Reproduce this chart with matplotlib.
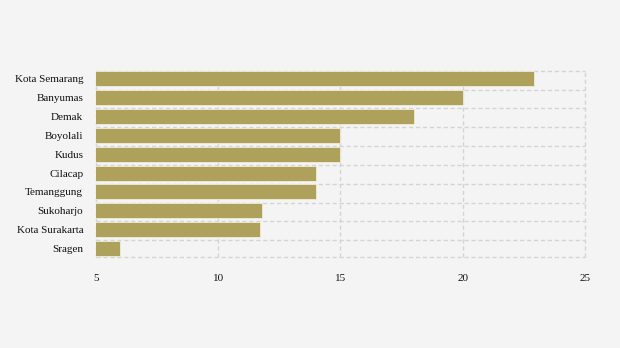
import matplotlib
matplotlib.use("Agg")
import matplotlib.pyplot as plt
import numpy as np

# Data
regions = ["Kota Semarang", "Banyumas", "Demak", "Boyolali", "Kudus",
           "Cilacap", "Temanggung", "Sukoharjo", "Kota Surakarta", "Sragen"]
values = [22.9, 20.0, 18.0, 15.0, 15.0, 14.0, 14.0, 11.8, 11.7, 6.0]
xticks = [5, 10, 15, 20, 25]

BG = "#f4f4f4"
BAR = "#aea15c"
GRID = "#d4d4d4"
BAR_H = 0.8

plt.rcParams["font.family"] = ["Liberation Serif", "DejaVu Serif"]

fig = plt.figure(figsize=(6.2, 3.48), dpi=100, facecolor=BG)
ax = fig.add_axes([0.1544, 0.2606, 0.7895, 0.5362], facecolor=BG)

y = np.arange(len(regions))
ax.barh(y, values, height=BAR_H, color=BAR, edgecolor="#f0ecd8", linewidth=0.6, zorder=2)

top = -BAR_H / 2 - 0.03
bottom = len(regions) - 1 + BAR_H / 2 + 0.07
ax.set_xlim(5, 25)
ax.set_ylim(bottom, top)
ax.set_xticks(xticks)
ax.set_xticklabels([str(t) for t in xticks], fontsize=8, color="#111111")
ax.set_yticks(y)
ax.set_yticklabels(regions, fontsize=8, color="#111111")

# dashed lines just above each bar, closed at the bottom
ax.set_yticks(list(y + top) + [bottom], minor=True)
ax.grid(axis="y", which="minor", color=GRID, linestyle=(0, (3, 2)), linewidth=1, zorder=0)
ax.grid(axis="x", which="major", color=GRID, linestyle=(0, (3, 2)), linewidth=1, zorder=0)
for ln in ax.get_xgridlines() + [t.gridline for t in ax.yaxis.get_minor_ticks()]:
    ln.set_clip_on(False)
ax.tick_params(axis="y", which="both", length=0, pad=9)
ax.tick_params(axis="x", length=0, pad=12)
for s in ax.spines.values():
    s.set_visible(False)

fig.savefig("out.png", dpi=100, facecolor=BG)
